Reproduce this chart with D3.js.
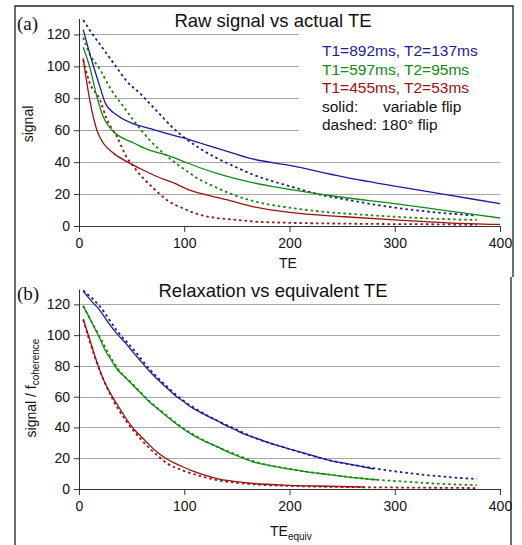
<!DOCTYPE html>
<html lang="en">
<head>
<meta charset="UTF-8">
<script src="https://d3js.org/d3.v7.min.js"></script>
<style>
  body { margin: 0; background: white; }
  svg { display: block; font-family: "Liberation Sans", Arial, sans-serif; }
</style>
</head>
<body>
<script>
    // ticks
    const xTicks = [0, 100, 200, 300, 400];
    const yTicks = [0, 20, 40, 60, 80, 100, 120];

    // (a) raw signal vs actual TE, [TE, signal]
    const rawBlueSolid = [[4,123],[12,104],[20,87],[25,77],[36,69.5],[52,64],[68,61],[83,58],[100,55],[115,52],[130,49],[147,45.5],[165,42],[200,38],[250,31],[300,25],[350,19.5],[400,14]];
    const rawBlueDashed = [[4,129],[12,121],[23,111],[35,100],[45,91],[58,83],[74,72],[90,61],[99,56],[115,48.5],[131,42.5],[147,37.5],[166,32],[200,25],[230,19.5],[250,17],[300,11.5],[340,8.5],[378,6.5]];
    const rawGreenSolid = [[4,112],[10,100],[17,81],[23,68.5],[30,61],[39,56],[52,52],[67,47.5],[83,44.5],[99,40.5],[115,36.5],[131,33],[147,30],[166,27],[200,23],[250,18],[300,14],[350,9.5],[400,5]];
    const rawGreenDashed = [[4,118],[10,108],[20,98],[30,86],[42,75],[52,66],[67,54],[83,44],[99,36],[115,29],[131,24],[147,19.5],[166,15.5],[200,11.5],[231,9],[260,7.5],[300,5.8],[340,4.5],[378,3.8]];
    const rawRedSolid = [[4,105],[7,91.5],[12,73],[17,60],[23,52],[33,45.5],[45,40.5],[58,36],[74,31],[90,27],[105,22.5],[121,19.5],[140,16.5],[166,12],[200,8.5],[252,5.8],[300,3.8],[350,2],[400,1]];
    const rawRedDashed = [[4,104],[10,90],[20,79],[26,67.5],[36,56],[45,43.5],[52,37],[61,30],[71,23.5],[83,16.5],[99,11],[115,7],[131,5],[147,4],[166,2.8],[200,2],[250,1.5],[300,1.2],[350,1],[378,0.7]];

    // (b) relaxation vs equivalent TE, [TEequiv, signal / fcoherence]
    const eqBlueSolid = [[4,128.5],[12,122],[20,116],[28,108],[36,101],[44,95],[52,88.5],[60,82],[67,76.5],[75,71],[83,66],[91,61],[99,57],[107,53],[115,50],[123,47],[131,44.5],[139,41.5],[147,39],[156,36],[166,33.5],[183,29.5],[200,26],[218,22.5],[236,19],[258,16],[280,13]];
    const eqBlueDashed = [[4,129],[20,118.5],[36,103],[52,90.5],[67,78],[83,67],[99,57.5],[115,50.5],[131,44.5],[147,39.5],[166,33.5],[200,26],[236,19],[280,13.5],[300,11.5],[331,9],[355,7.5],[378,6.5]];
    const eqGreenSolid = [[4,119],[12,108.5],[20,97.5],[25,90],[30,84.5],[36,78],[44,72.5],[52,67],[60,61.5],[67,56.5],[75,52],[83,47.5],[91,43],[99,39],[107,35.5],[115,32.5],[123,30],[131,27.5],[147,22.5],[166,17.5],[183,15],[200,13],[218,11],[236,9.5],[258,7.5],[283,6]];
    const eqGreenDashed = [[4,119],[20,98.5],[36,79],[52,67.5],[67,57],[83,48],[99,39.5],[115,33],[131,27.5],[147,23],[166,18],[200,13],[236,9.5],[283,6],[310,4.8],[345,3.3],[378,2.5]];
    const eqRedSolid = [[4,110.5],[10,97.5],[17,82.5],[23,71.5],[30,62],[39,52],[45,45.5],[52,39],[60,33.5],[67,28.5],[75,23.5],[83,19.7],[91,16.8],[99,14.3],[107,12],[115,10],[123,8.3],[131,6.8],[147,5],[166,3.6],[200,2.4],[236,1.8],[270,1.3]];
    const eqRedDashed = [[4,110],[17,82],[30,61],[45,44],[60,31.5],[75,21.5],[83,17],[99,12],[115,8.5],[131,5.8],[147,4.2],[166,3],[200,2],[250,1.3],[300,1],[340,0.8],[378,0.6]];

    const colors = { blue: "#1c1c9a", green: "#108a10", red: "#9a1010" };
    const legendLabels = ["T1=892ms, T2=137ms", "T1=597ms, T2=95ms", "T1=455ms, T2=53ms"];
    const legendColors = [colors.blue, colors.green, colors.red];

    const svg = d3.select("body").append("svg")
        .attr("width", 522)
        .attr("height", 545);

    // panel frames
    svg.append("path")
        .attr("d", "M15,545 L15,6 L513,6 L513,277 M511,277 L511,545")
        .attr("fill", "none")
        .attr("stroke", "#222")
        .attr("stroke-width", 1.3);

    const drawPanel = (cfg) => {
        const g = svg.append("g");

        const x = d3.scaleLinear().domain([0, 400]).range([79, 500]);
        const y = d3.scaleLinear().domain([0, 130]).range([cfg.bottom, cfg.top]);

        // gridlines
        g.selectAll(".grid")
            .data(yTicks.filter(d => d > 0))
            .enter()
            .append("line")
            .attr("x1", x(0))
            .attr("x2", x(400))
            .attr("y1", d => Math.round(y(d)) + 0.5)
            .attr("y2", d => Math.round(y(d)) + 0.5)
            .attr("stroke", "#a8a8a8")
            .attr("stroke-width", 1);

        // legend box hides part of the grid
        if (cfg.legend) {
            g.append("rect")
                .attr("x", 299).attr("y", 28)
                .attr("width", 210).attr("height", 110)
                .attr("fill", "white");
        }

        // axes
        const yAxis = g.append("g")
            .attr("transform", `translate(${x(0)},0)`)
            .call(d3.axisLeft(y).tickValues(yTicks).tickSize(5).tickSizeOuter(0).tickPadding(4));
        const xAxis = g.append("g")
            .attr("transform", `translate(0,${y(0)})`)
            .call(d3.axisBottom(x).tickValues(xTicks).tickSize(6).tickSizeOuter(0).tickPadding(6));
        [yAxis, xAxis].forEach(a => {
            a.selectAll("path, line").attr("stroke", "#333");
            a.selectAll("text")
                .attr("fill", "#111")
                .style("font-family", "'Liberation Sans', Arial, sans-serif")
                .style("font-size", "14px");
        });

        // curves
        const line = d3.line()
            .x(d => x(d[0]))
            .y(d => y(d[1]))
            .curve(d3.curveMonotoneX);

        cfg.series.forEach(s => {
            g.append("path")
                .datum(s.data)
                .attr("d", line)
                .attr("fill", "none")
                .attr("stroke", s.color)
                .attr("stroke-width", s.dashed ? 1.8 : 1.3)
                .attr("stroke-dasharray", s.dashed ? "2.5,3" : null);
        });

        // title
        g.append("text")
            .attr("x", 273)
            .attr("y", cfg.titleY)
            .attr("text-anchor", "middle")
            .style("font-size", "18.5px")
            .attr("fill", "#111")
            .text(cfg.title);

        // panel letter
        g.append("text")
            .attr("x", 17)
            .attr("y", cfg.titleY + 3)
            .style("font-family", "'Liberation Serif', 'Times New Roman', serif")
            .style("font-size", "19px")
            .attr("fill", "#111")
            .text(cfg.letter);

        return { g, x, y };
    };

    const pa = drawPanel({
        top: 18.5, bottom: 226, titleY: 27, title: "Raw signal vs actual TE", letter: "(a)", legend: true,
        series: [
            { data: rawBlueDashed, color: colors.blue, dashed: true },
            { data: rawGreenDashed, color: colors.green, dashed: true },
            { data: rawRedDashed, color: colors.red, dashed: true },
            { data: rawBlueSolid, color: colors.blue },
            { data: rawGreenSolid, color: colors.green },
            { data: rawRedSolid, color: colors.red }
        ]
    });

    const pb = drawPanel({
        top: 289, bottom: 489, titleY: 297, title: "Relaxation vs equivalent TE", letter: "(b)", legend: false,
        series: [
            { data: eqBlueDashed, color: colors.blue, dashed: true },
            { data: eqGreenDashed, color: colors.green, dashed: true },
            { data: eqRedDashed, color: colors.red, dashed: true },
            { data: eqBlueSolid, color: colors.blue },
            { data: eqGreenSolid, color: colors.green },
            { data: eqRedSolid, color: colors.red }
        ]
    });

    // legend (a)
    const legend = pa.g.append("g").style("font-size", "15.5px");
    legendLabels.forEach((t, i) => {
        legend.append("text")
            .attr("x", 322)
            .attr("y", 56 + i * 18.6)
            .attr("fill", legendColors[i])
            .text(t);
    });
    legend.append("text").attr("x", 322).attr("y", 56 + 3 * 18.6).attr("fill", "#111").text("solid:");
    legend.append("text").attr("x", 383).attr("y", 56 + 3 * 18.6).attr("fill", "#111").text("variable flip");
    legend.append("text").attr("x", 322).attr("y", 56 + 4 * 18.6).attr("fill", "#111").text("dashed: 180\u00b0 flip");

    // axis titles (a)
    pa.g.append("text")
        .attr("x", 288).attr("y", 268)
        .attr("text-anchor", "middle")
        .style("font-size", "14px")
        .attr("fill", "#111")
        .text("TE");
    pa.g.append("text")
        .attr("transform", "translate(33,124) rotate(-90)")
        .attr("text-anchor", "middle")
        .style("font-size", "14px")
        .attr("fill", "#111")
        .text("signal");

    // axis titles (b)
    const xt = pb.g.append("text")
        .attr("x", 270).attr("y", 536)
        .style("font-size", "14px")
        .attr("fill", "#111");
    xt.append("tspan").text("TE");
    xt.append("tspan").attr("dy", 4).style("font-size", "10px").text("equiv");

    const yt = pb.g.append("text")
        .attr("transform", "translate(36,388) rotate(-90)")
        .attr("text-anchor", "middle")
        .style("font-size", "14px")
        .attr("fill", "#111");
    yt.append("tspan").text("signal / f");
    yt.append("tspan").attr("dy", 3).style("font-size", "10px").text("coherence");
</script>
</body>
</html>
